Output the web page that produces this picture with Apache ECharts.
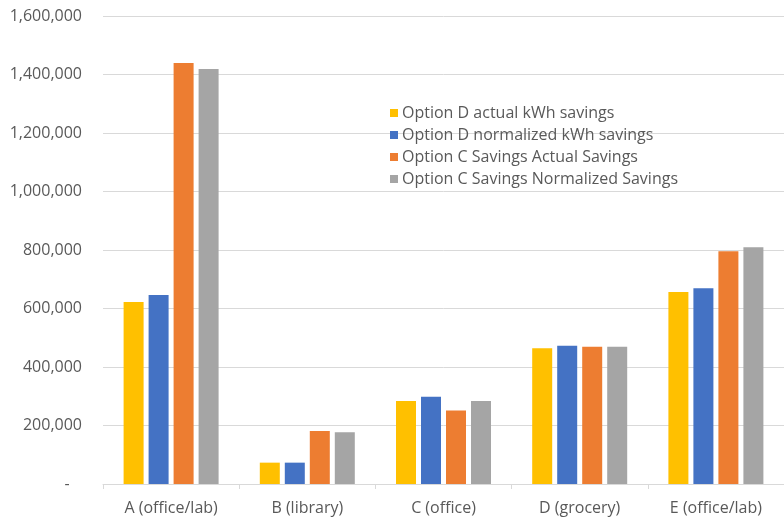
<!DOCTYPE html>
<html>
<head>
<meta charset="utf-8">
<script src="https://cdn.jsdelivr.net/npm/echarts@6/dist/echarts.min.js"></script>
<style>
html,body{margin:0;padding:0;background:#fff;}
#chart{width:784px;height:521px;}
</style>
</head>
<body>
<div id="chart"></div>
<script>
const categories = ['A (office/lab)', 'B (library)', 'C (office)', 'D (grocery)', 'E (office/lab)'];
const seriesNames = [
  'Option D actual kWh savings',
  'Option D normalized kWh savings',
  'Option C Savings Actual Savings',
  'Option C Savings Normalized Savings'
];
const optionDActual = [622000, 73000, 284000, 464000, 656000];
const optionDNormalized = [646000, 73000, 298000, 473000, 669000];
const optionCActual = [1439000, 181000, 251000, 469000, 796000];
const optionCNormalized = [1419000, 177000, 284000, 469000, 809000];
const colors = ['#FFC000', '#4472C4', '#ED7D31', '#A5A5A5'];

const font = '"Open Sans", "Noto Sans", sans-serif';
const chart = echarts.init(document.getElementById('chart'), null, {renderer: 'canvas'});
const allData = [optionDActual, optionDNormalized, optionCActual, optionCNormalized];

chart.setOption({
  animation: false,
  backgroundColor: '#ffffff',
  color: colors,
  grid: {left: 103, right: -8, top: 16, bottom: 37, containLabel: false},
  legend: {
    orient: 'vertical',
    left: 385,
    top: 99,
    itemWidth: 8,
    itemHeight: 8,
    itemGap: 4,
    icon: 'rect',
    data: seriesNames,
    textStyle: {color: '#595959', fontSize: 16, fontFamily: font, lineHeight: 18, padding: [0,0,0,-1]}
  },
  xAxis: {
    type: 'category',
    data: categories,
    axisLine: {lineStyle: {color: '#d9d9d9', width: 1}},
    axisTick: {show: true, length: 5, lineStyle: {color: '#d9d9d9'}},
    axisLabel: {color: '#595959', fontSize: 16, fontFamily: font, margin: 16}
  },
  yAxis: {
    type: 'value',
    min: 0,
    max: 1600000,
    interval: 200000,
    axisLine: {show: false},
    axisTick: {show: false},
    splitLine: {lineStyle: {color: '#d9d9d9', width: 1}},
    axisLabel: {
      color: '#595959', fontSize: 16, fontFamily: font, margin: 21,
      formatter: function (v) { return v === 0 ? '-   ' : v.toLocaleString('en-US'); }
    }
  },
  series: seriesNames.map((name, i) => ({
    name: name,
    type: 'bar',
    data: allData[i],
    barWidth: 20,
    barGap: '25%',
    itemStyle: {color: colors[i]}
  }))
});
</script>
</body>
</html>
